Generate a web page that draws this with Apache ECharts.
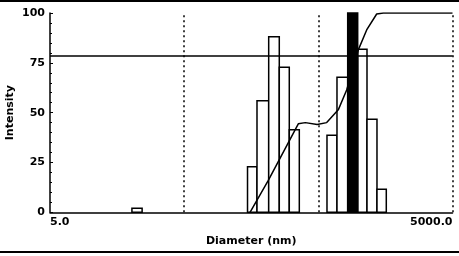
<!DOCTYPE html>
<html><head><meta charset="utf-8">
<script src="https://cdn.jsdelivr.net/npm/echarts@6/dist/echarts.min.js"></script>
<style>html,body{margin:0;padding:0;background:#fff}#c{width:459px;height:256px}</style>
</head><body><div id="c"></div>
<script>
// Histogram bins (diameter in nm, log-spaced) and intensity
const binStart  = [20.4, 148.3, 174.5, 213.3, 255.8, 303.7, 580, 688.6, 982.5, 1152.6, 1368];
const binEnd    = [24.3, 174.5, 213.3, 255.8, 303.7, 360.7, 688.6, 827.6, 1152.6, 1368, 1605];
const intensity = [2, 22.8, 56.0, 88.1, 72.8, 41.4, 38.7, 67.8, 81.8, 46.7, 11.6];
// Highlighted (cursor) bin
const markerStart = [827.6];
const markerEnd = [982.5];
const markerValue = [100];
// Cumulative curve
const cumDiameter = [154.8, 211.9, 354.5, 400, 490, 577, 704, 813, 993, 1146, 1361, 1525, 5000];
const cumValue    = [0, 16, 44.4, 45, 44, 45, 51.4, 61.4, 81.5, 91.5, 99.5, 100, 100];
// Reference lines
const refLevel = [78.4];
const gridDiameters = [50, 500, 5000];
// Axis labels
const xMin = 5, xMax = 5000;
const xTickLabels = ['5.0', '5000.0'];
const yTicks = [0, 25, 50, 75, 100];

const FONT = 'DejaVu Sans';
const chart = echarts.init(document.getElementById('c'), null, {renderer: 'canvas'});

const bars = binStart.map((s, i) => [s, binEnd[i], intensity[i]]);
const marker = markerStart.map((s, i) => [s, markerEnd[i], markerValue[i]]);
const cum = cumDiameter.map((d, i) => [d, cumValue[i]]);

function barItem(fill) {
  return function (params, api) {
    const p0 = api.coord([api.value(0), api.value(2)]);
    const p1 = api.coord([api.value(1), 0]);
    return {
      type: 'rect',
      shape: {x: p0[0], y: p0[1], width: p1[0] - p0[0], height: p1[1] - p0[1]},
      style: {fill: fill, stroke: '#000', lineWidth: 1.5}
    };
  };
}

const txt = {fontFamily: FONT, fontSize: 11, fontWeight: 'bold', color: '#000'};

chart.setOption({
  animation: false,
  backgroundColor: '#fff',
  grid: {left: 50, right: 6.5, top: 13, bottom: 43.7, containLabel: false, outerBoundsMode: 'none'},
  xAxis: {
    type: 'log', logBase: 10, min: xMin, max: xMax,
    name: 'Diameter (nm)', nameLocation: 'middle', nameGap: 23, nameMoveOverlap: false,
    nameTextStyle: txt,
    axisLine: {lineStyle: {color: '#000', width: 1.5}},
    axisTick: {show: false},
    splitLine: {show: false},
    axisLabel: Object.assign({}, txt, {
      margin: 4,
      showMinLabel: true, showMaxLabel: true,
      alignMinLabel: 'left', alignMaxLabel: 'right',
      formatter: function (v) {
        if (Math.abs(v - xMin) < 1e-6) return xTickLabels[0];
        if (Math.abs(v - xMax) < 1e-3) return xTickLabels[1];
        return '';
      }
    })
  },
  yAxis: {
    type: 'value', min: yTicks[0], max: yTicks[yTicks.length - 1], interval: 25,
    name: 'Intensity', nameLocation: 'middle', nameGap: 34, nameMoveOverlap: false,
    nameTextStyle: txt,
    axisLine: {show: true, lineStyle: {color: '#000', width: 1.5}},
    axisTick: {show: true, inside: true, length: 3, lineStyle: {color: '#000'}},
    minorTick: {show: true, splitNumber: 5, length: 2, lineStyle: {color: '#000'}},
    splitLine: {show: false},
    axisLabel: Object.assign({}, txt, {margin: 5})
  },
  series: [
    {
      type: 'custom', z: 2, renderItem: barItem('#fff'),
      encode: {x: [0, 1], y: 2}, data: bars, clip: false
    },
    {
      type: 'line', z: 3, data: cum, symbol: 'none', smooth: false,
      lineStyle: {color: '#000', width: 1.5},
      markLine: {
        silent: true, symbol: 'none', label: {show: false},
        data: refLevel.map(v => ({yAxis: v, lineStyle: {type: 'solid', color: '#000', width: 1.5}}))
          .concat(gridDiameters.map(d => ({xAxis: d, lineStyle: {type: [2, 3], color: '#000', width: 1.5}})))
      }
    },
    {
      type: 'custom', z: 4, renderItem: barItem('#000'),
      encode: {x: [0, 1], y: 2}, data: marker, clip: false
    }
  ],
  graphic: [
    {type: 'rect', left: 0, top: 0, shape: {width: 459, height: 2}, style: {fill: '#000'}},
    {type: 'rect', left: 0, top: 251, shape: {width: 459, height: 2}, style: {fill: '#000'}}
  ]
});
</script></body></html>
